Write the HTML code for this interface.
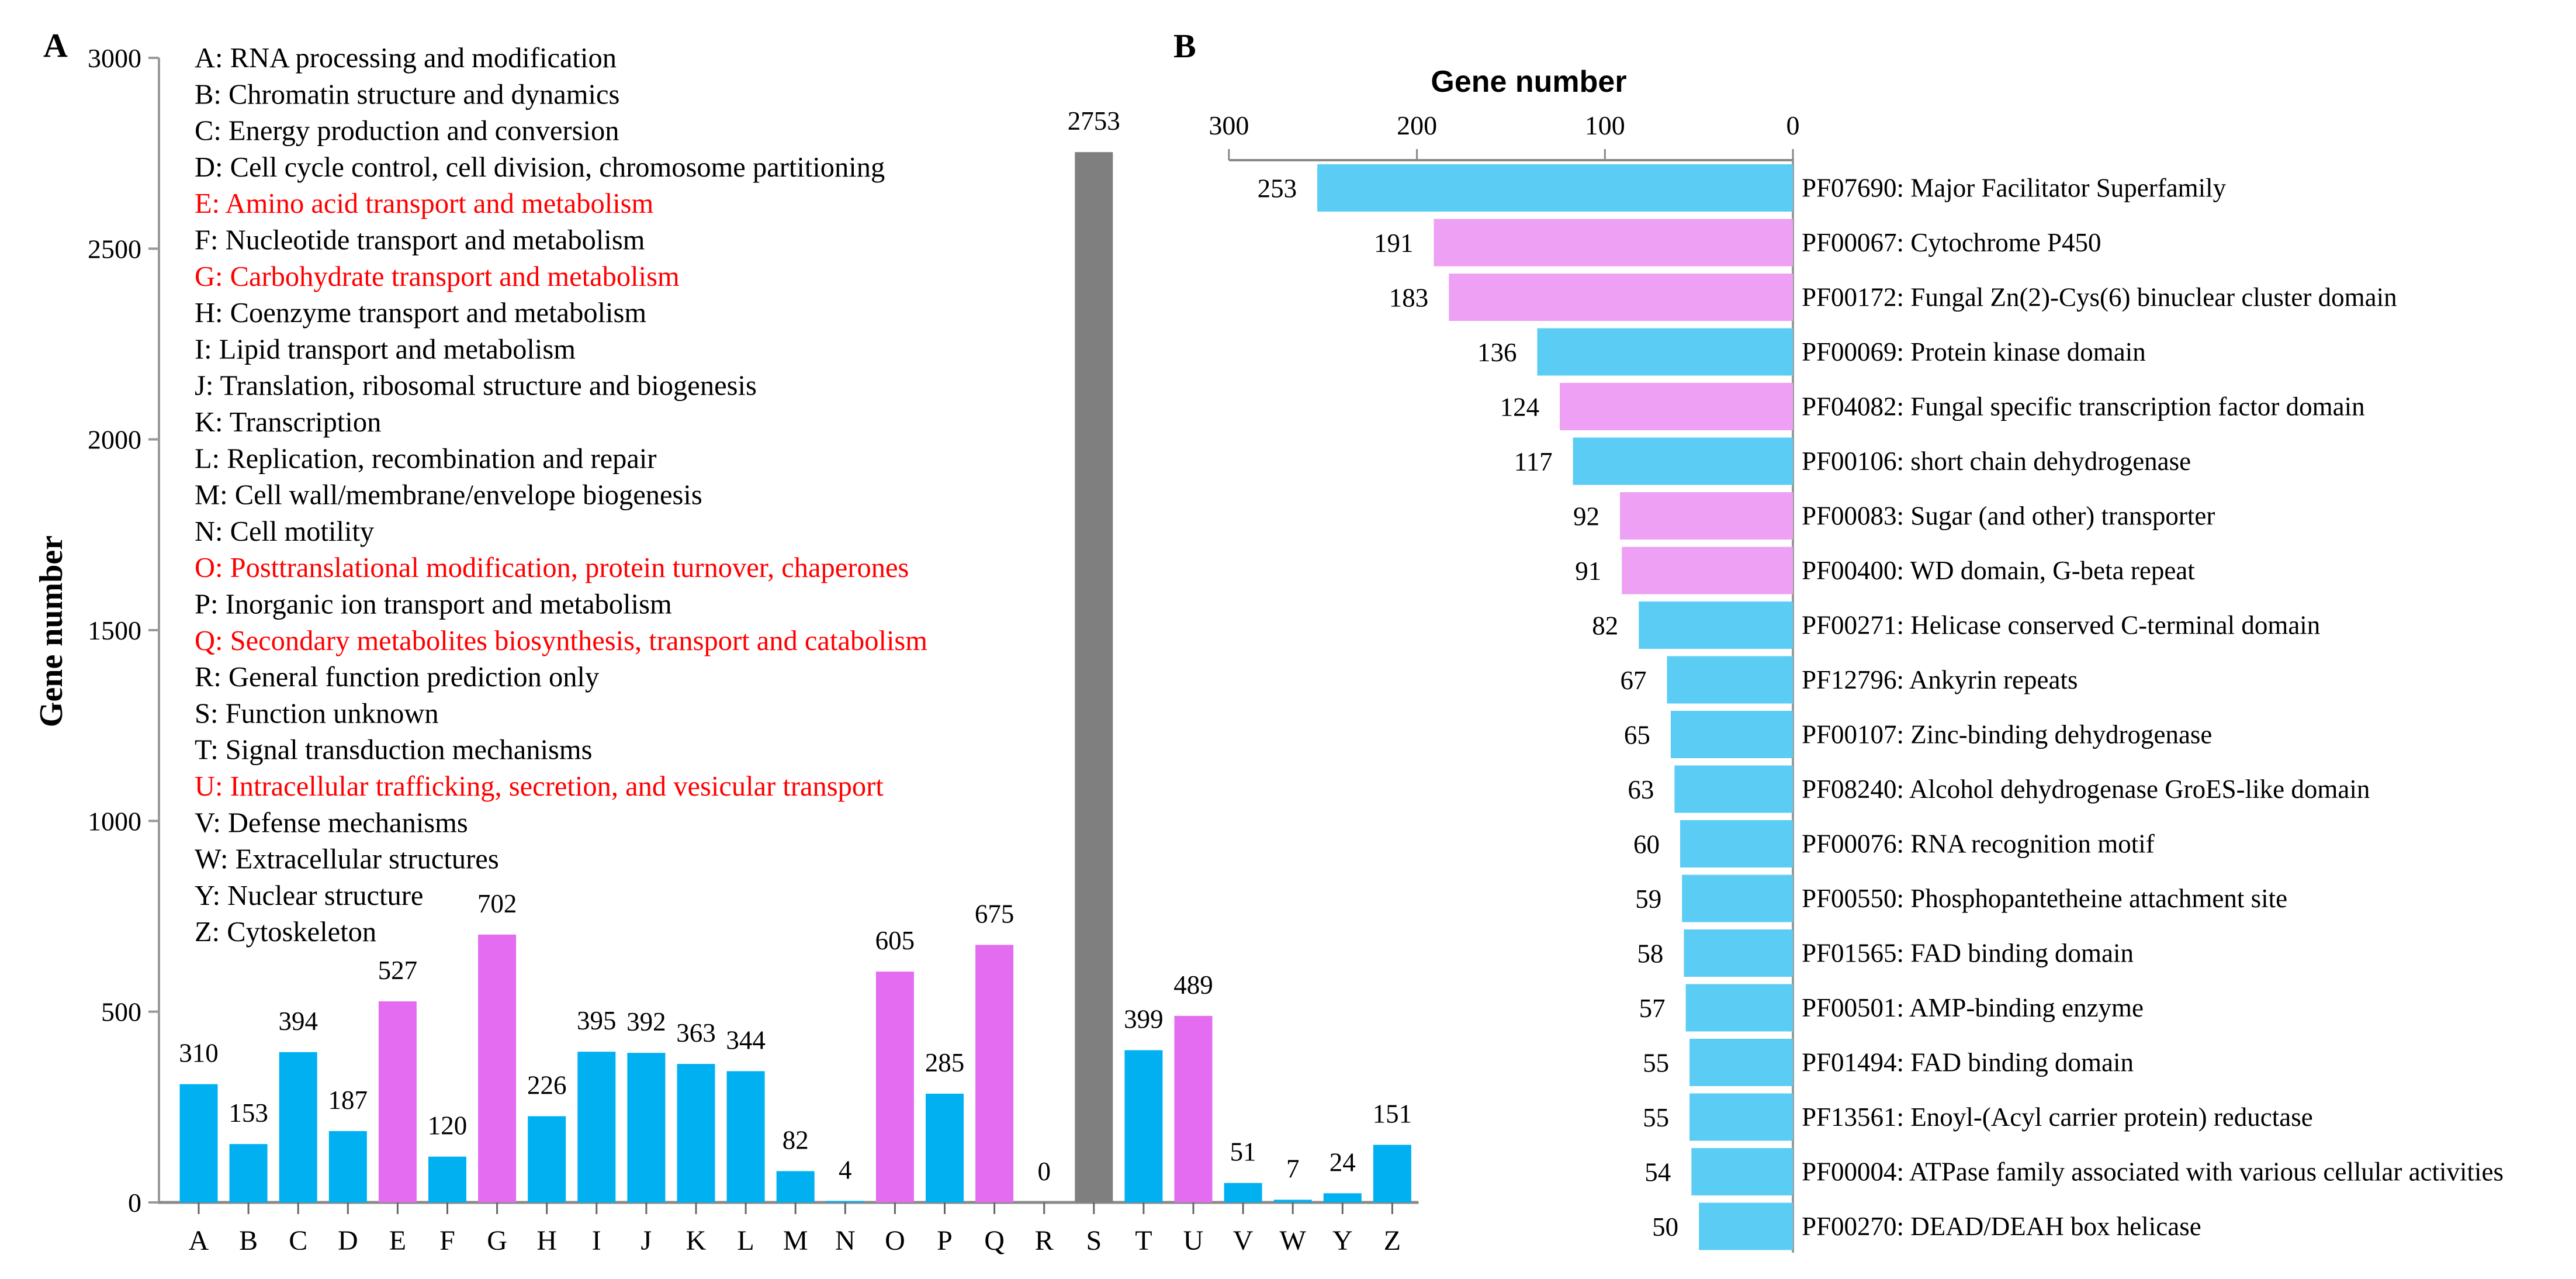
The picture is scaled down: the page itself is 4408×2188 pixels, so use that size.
<!DOCTYPE html>
<html><head><meta charset="utf-8"><style>
html,body{margin:0;padding:0;background:#fff;}
svg{display:block;}
svg text{font-family:"Liberation Serif","Times New Roman",serif;}
svg text.sans{font-family:"Liberation Sans",Arial,sans-serif;}
</style></head><body>
<svg id="fig" width="4408" height="2188" viewBox="0 0 4408 2188" xmlns="http://www.w3.org/2000/svg" style="font-family:'Liberation Serif',serif">
<rect width="4408" height="2188" fill="#fff"/>
<g id="pa"></g>
<g id="pb"></g>
</svg>
<script>
// Panel A data
const catsA = ["A","B","C","D","E","F","G","H","I","J","K","L","M","N","O","P","Q","R","S","T","U","V","W","Y","Z"];
const valsA = [310,153,394,187,527,120,702,226,395,392,363,344,82,4,605,285,675,0,2753,399,489,51,7,24,151];
const typeA = ["b","b","b","b","p","b","p","b","b","b","b","b","b","b","p","b","p","b","g","b","p","b","b","b","b"];
const ticksA = [0,500,1000,1500,2000,2500,3000];
const legendA = [
["A: RNA processing and modification",0],["B: Chromatin structure and dynamics",0],["C: Energy production and conversion",0],
["D: Cell cycle control, cell division, chromosome partitioning",0],["E: Amino acid transport and metabolism",1],
["F: Nucleotide transport and metabolism",0],["G: Carbohydrate transport and metabolism",1],["H: Coenzyme transport and metabolism",0],
["I: Lipid transport and metabolism",0],["J: Translation, ribosomal structure and biogenesis",0],["K: Transcription",0],
["L: Replication, recombination and repair",0],["M: Cell wall/membrane/envelope biogenesis",0],["N: Cell motility",0],
["O: Posttranslational modification, protein turnover, chaperones",1],["P: Inorganic ion transport and metabolism",0],
["Q: Secondary metabolites biosynthesis, transport and catabolism",1],["R: General function prediction only",0],
["S: Function unknown",0],["T: Signal transduction mechanisms",0],["U: Intracellular trafficking, secretion, and vesicular transport",1],
["V: Defense mechanisms",0],["W: Extracellular structures",0],["Y: Nuclear structure",0],["Z: Cytoskeleton",0]];
// Panel B data
const catsB = ["PF07690: Major Facilitator Superfamily","PF00067: Cytochrome P450","PF00172: Fungal Zn(2)-Cys(6) binuclear cluster domain","PF00069: Protein kinase domain","PF04082: Fungal specific transcription factor domain","PF00106: short chain dehydrogenase","PF00083: Sugar (and other) transporter","PF00400: WD domain, G-beta repeat","PF00271: Helicase conserved C-terminal domain","PF12796: Ankyrin repeats","PF00107: Zinc-binding dehydrogenase","PF08240: Alcohol dehydrogenase GroES-like domain","PF00076: RNA recognition motif","PF00550: Phosphopantetheine attachment site","PF01565: FAD binding domain","PF00501: AMP-binding enzyme","PF01494: FAD binding domain","PF13561: Enoyl-(Acyl carrier protein) reductase","PF00004: ATPase family associated with various cellular activities","PF00270: DEAD/DEAH box helicase"];
const valsB = [253,191,183,136,124,117,92,91,82,67,65,63,60,59,58,57,55,55,54,50];
const typeB = ["b","p","p","b","p","b","p","p","b","b","b","b","b","b","b","b","b","b","b","b"];
const ticksB = [300,200,100,0];

const NS="http://www.w3.org/2000/svg";
function mk(parent,tag,attrs,txt){const e=document.createElementNS(NS,tag);for(const k in attrs)e.setAttribute(k,attrs[k]);if(txt!==undefined)e.textContent=txt;parent.appendChild(e);return e;}

// ---- Panel A ----
const pa=document.getElementById('pa');
const ax0=272, y0=2057, y3000=99;
const yA=v=>y0-(v/3000)*(y0-y3000);
const xA=i=>340+i*85.1;
const ax1=xA(catsA.length-1)+45;
const bw=65;
const colA={b:"#00b0f0",p:"#e46cf0",g:"#7f7f7f"};
let t=mk(pa,'text',{x:74,y:97,'font-size':58,'font-weight':'bold'},'A');


t=mk(pa,'text',{x:0,y:0,'font-size':56,'font-weight':'bold','text-anchor':'middle',transform:'translate(106,1080) rotate(-90)'},'Gene number');


let l=mk(pa,'line',{x1:ax0,y1:y3000,x2:ax0,y2:y0,stroke:'#999','stroke-width':4});


l=mk(pa,'line',{x1:ax0-2,y1:y0,x2:ax1,y2:y0,stroke:'#8a8a8a','stroke-width':5});


ticksA.forEach(v=>{
  const tk=mk(pa,'line',{x1:ax0-18,y1:yA(v),x2:ax0,y2:yA(v),stroke:'#999','stroke-width':4});
  
  
  const tl=mk(pa,'text',{x:ax0-30,y:yA(v)+16,'font-size':46,'text-anchor':'end'},String(v));
  
  
});
valsA.forEach((v,i)=>{
  const cx=xA(i);
  const r=mk(pa,'rect',{x:cx-bw/2,y:yA(v),width:bw,height:y0-yA(v),fill:colA[typeA[i]]});
  
  
  const vl=mk(pa,'text',{x:cx,y:yA(v)-38,'font-size':45,'text-anchor':'middle'},String(v));
  
  
  const tk=mk(pa,'line',{x1:cx,y1:y0,x2:cx,y2:y0+20,stroke:'#666','stroke-width':3});
  
  
  const cl=mk(pa,'text',{x:cx,y:2138,'font-size':48,'text-anchor':'middle'},catsA[i]);
  
  
});
legendA.forEach((d,i)=>{
  const e=mk(pa,'text',{x:333,y:115+i*62.3,'font-size':48.5,fill:d[1]?'#ff0000':'#000'},d[0]);
  
  
});

// ---- Panel B ----
const pb=document.getElementById('pb');
const bx0=3068, pxPer=3.217;
const xB=v=>bx0-v*pxPer;
const yB=i=>321.5+i*93.5;
const bh=81;
const colB={b:"#5bcdf5",p:"#eea0f4"};
t=mk(pb,'text',{x:2008,y:98,'font-size':58,'font-weight':'bold'},'B');


t=mk(pb,'text',{x:2616,y:157,'font-size':52,'font-weight':'bold','text-anchor':'middle','class':'sans'},'Gene number');


l=mk(pb,'line',{x1:xB(300),y1:274,x2:bx0,y2:274,stroke:'#888','stroke-width':4});


l=mk(pb,'line',{x1:bx0,y1:272,x2:bx0,y2:2143,stroke:'#999','stroke-width':4});


ticksB.forEach(v=>{
  const tk=mk(pb,'line',{x1:xB(v),y1:255,x2:xB(v),y2:274,stroke:'#888','stroke-width':3});
  
  
  const tl=mk(pb,'text',{x:xB(v),y:230,'font-size':46,'text-anchor':'middle'},String(v));
  
  
});
valsB.forEach((v,i)=>{
  const cy=yB(i);
  const r=mk(pb,'rect',{x:xB(v),y:cy-bh/2,width:bx0-xB(v),height:bh,fill:colB[typeB[i]]});
  
  
  const vl=mk(pb,'text',{x:xB(v)-35,y:cy+16,'font-size':45,'text-anchor':'end'},String(v));
  
  
  const cl=mk(pb,'text',{x:3083,y:cy+15,'font-size':45},catsB[i]);
  
  
});
</script>
</body></html>
